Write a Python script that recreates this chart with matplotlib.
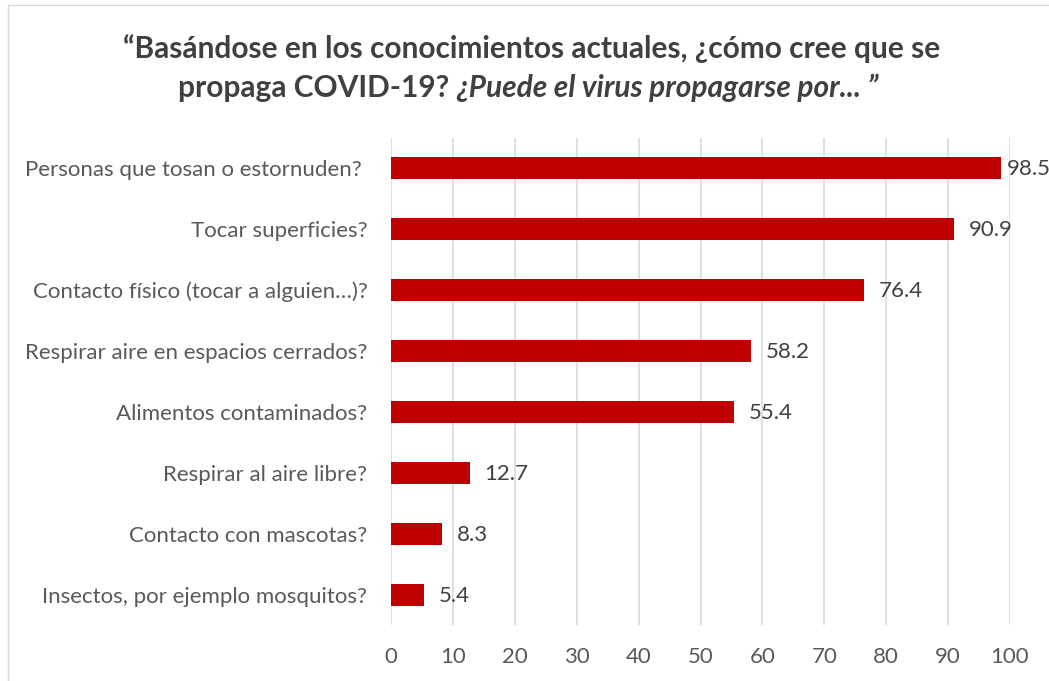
import matplotlib
matplotlib.use('Agg')
import matplotlib.pyplot as plt
import numpy as np

categories = ['Personas que tosan o estornuden? ', 'Tocar superficies?',
              'Contacto físico (tocar a alguien…)?', 'Respirar aire en espacios cerrados?',
              'Alimentos contaminados?', 'Respirar al aire libre?',
              'Contacto con mascotas?', 'Insectos, por ejemplo mosquitos?']
values = [98.5, 90.9, 76.4, 58.2, 55.4, 12.7, 8.3, 5.4]
xticks = [0, 10, 20, 30, 40, 50, 60, 70, 80, 90, 100]

plt.rcParams['font.family'] = ['Lato', 'DejaVu Sans']
txt = '#595959'

fig = plt.figure(figsize=(10.49, 6.81), dpi=100)
ax = fig.add_axes([391/1049, 1-625/681, 619/1049, 487.5/681])

y = np.arange(len(categories))
ax.barh(y, values, height=0.36, color='#C00000', zorder=3)
for yi, v in zip(y, values):
    # labels sit a little right of the bar, pushed back in near the chart edge
    ax.text(min(v + 2.4, 99.5), yi + 0.02, f'{v:.1f}', va='center', ha='left',
            fontsize=16, color='#404040')

ax.set_ylim(len(categories) - 0.5, -0.5)
ax.set_xlim(0, 100)
ax.set_yticks(y)
ax.set_yticklabels(categories, fontsize=16, color=txt)
ax.set_xticks(xticks)
ax.set_xticklabels([str(t) for t in xticks], fontsize=16, color=txt)
ax.tick_params(axis='x', length=0, pad=16)
ax.tick_params(axis='y', length=0, pad=17)
ax.grid(axis='x', color='#D9D9D9', linewidth=1.2, zorder=0)
for s in ax.spines.values():
    s.set_visible(False)

# title: bold line + bold / bold-italic mixed line
fig.text(532/1049, 1-49/681, '“Basándose en los conocimientos actuales, ¿cómo cree que se',
         ha='center', va='center', fontsize=21.5, fontweight='bold', color='#404040')
fig.canvas.draw()
r = fig.canvas.get_renderer()
t1 = fig.text(0, 1-88/681, 'propaga COVID-19? ', ha='left', va='center',
              fontsize=21.5, fontweight='bold', color='#404040')
t2 = fig.text(0, 1-88/681, '¿Puede el virus propagarse por... ”', ha='left', va='center',
              fontsize=21.5, fontweight='bold', style='italic', color='#404040')
w1 = t1.get_window_extent(r).width
w2 = t2.get_window_extent(r).width
x0 = 528 - (w1 + w2) / 2
t1.set_x(x0 / 1049)
t2.set_x((x0 + w1) / 1049)

# chart border
fig.add_artist(plt.Rectangle((8/1049, -0.01), 1.02, 1 - 5/681 + 0.01, transform=fig.transFigure,
                             fill=False, edgecolor='#D9D9D9', linewidth=1))

fig.savefig('out.png', dpi=100)
